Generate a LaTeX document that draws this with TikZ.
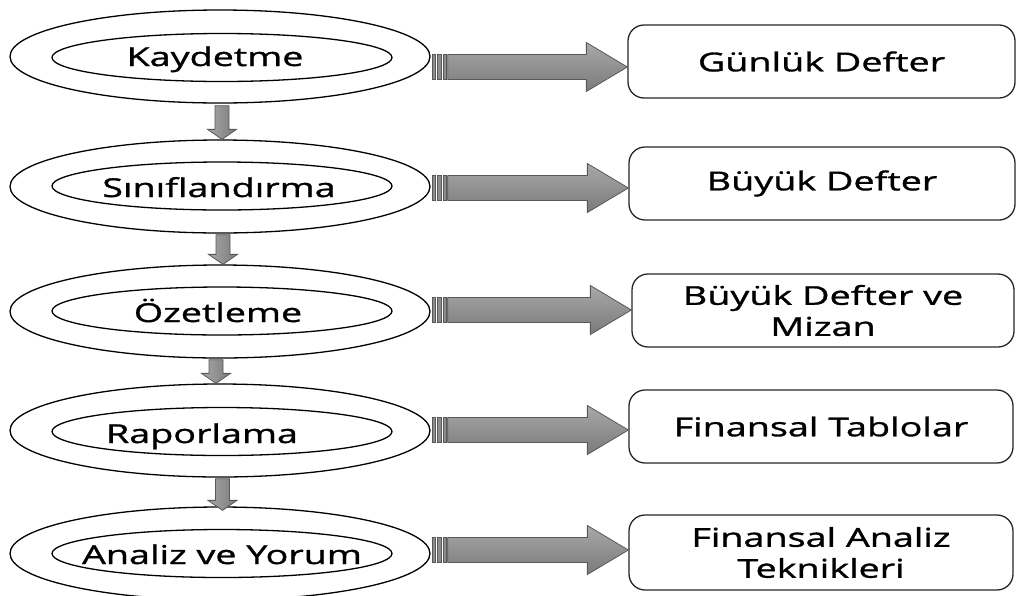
\documentclass[tikz,border=0pt]{standalone}
\usepackage{fontspec}
\setmainfont{Open Sans}[FakeStretch=1.45,FakeBold=1.2]
\usetikzlibrary{shapes.geometric,calc}

\definecolor{arrowtop}{RGB}{168,168,168}
\definecolor{arrowbot}{RGB}{122,122,122}
\definecolor{arrowedge}{RGB}{88,88,88}
\definecolor{barcol}{RGB}{140,140,140}

\tikzset{
  outerell/.style={ellipse, draw=black, line width=1.3pt,
    minimum width=420pt, minimum height=93pt, inner sep=0pt},
  innerell/.style={ellipse, draw=black, line width=1.3pt,
    minimum width=340pt, minimum height=48pt, inner sep=0pt},
  lbl/.style={font=\fontsize{26}{31}\selectfont, anchor=base, inner sep=0pt},
  resultbox/.style={draw=black!85, line width=1.3pt, rounded corners=16pt,
    minimum height=73pt, align=center, inner sep=0pt,
    font=\fontsize{26}{31}\selectfont},
  stripe/.style={draw=arrowedge, line width=0.6pt, fill=barcol},
  sideshaft/.style={draw=arrowedge, line width=0.8pt,
    top color=arrowtop, bottom color=arrowbot},
  downshaft/.style={draw=arrowedge, line width=0.8pt,
    left color=arrowtop, right color=arrowbot},
}

% horizontal block arrow with striped tail, from #1 to #2
\newcommand\sideblock[2]{%
  \draw[stripe] let \p1=(#1) in
    (\x1,\y1-12.5pt) rectangle (\x1+3pt,\y1+12.5pt)
    (\x1+5pt,\y1-12.5pt) rectangle (\x1+9pt,\y1+12.5pt)
    (\x1+11pt,\y1-12.5pt) rectangle (\x1+14pt,\y1+12.5pt);
  \draw[sideshaft] let \p1=(#1), \p2=(#2) in
    (\x1+15pt,\y1-12.5pt) -- (\x2-41pt,\y1-12.5pt) -- (\x2-41pt,\y1-24.5pt)
    -- (\x2,\y1) -- (\x2-41pt,\y1+24.5pt) -- (\x2-41pt,\y1+12.5pt)
    -- (\x1+15pt,\y1+12.5pt) -- cycle;
}
% vertical block arrow from #1 down to #2
\newcommand\downblock[2]{%
  \draw[downshaft] let \p1=(#1), \p2=(#2) in
    (\x1-7pt,\y1) -- (\x1+7pt,\y1) -- (\x1+7pt,\y2+10pt) -- (\x1+14.5pt,\y2+10pt)
    -- (\x1,\y2) -- (\x1-14.5pt,\y2+10pt) -- (\x1-7pt,\y2+10pt) -- cycle;
}

\begin{document}
\begin{tikzpicture}[x=1pt,y=-1pt]
\useasboundingbox (0,0) rectangle (1016,595);

% process steps
\node[outerell] (o1) at (220,56.5) {};
\node[outerell] (o2) at (220,186.5) {};
\node[outerell] (o3) at (220,311.5) {};
\node[outerell] (o4) at (220,430.5) {};
\node[outerell] (o5) at (220,553.5) {};

\node[innerell] (i1) at (222,57.5) {};
\node[innerell] (i2) at (222,186) {};
\node[innerell] (i3) at (222,311) {};
\node[innerell] (i4) at (222,431.5) {};
\node[innerell] (i5) at (222,553.5) {};

\node[lbl] (t1) at (215,66) {Kaydetme};
\node[lbl] (t2) at (219,197) {Sınıflandırma};
\node[lbl] (t3) at (218,322) {Özetleme};
\node[lbl] (t4) at (202,443) {Raporlama};
\node[lbl] (t5) at (222,564) {Analiz ve Yorum};

% resulting records
\node[resultbox, minimum width=387pt] (b1) at (821.5,61.5) {Günlük Defter};
\node[resultbox, minimum width=386pt] (b2) at (822,183.5) {Büyük Defter};
\node[resultbox, minimum width=382pt] (b3) at (823,310.5) {Büyük Defter ve\\Mizan};
\node[resultbox, minimum width=384pt] (b4) at (821,426.5) {Finansal Tablolar};
\node[resultbox, minimum width=384pt, minimum height=75pt] (b5) at (821,552.5) {Finansal Analiz\\Teknikleri};

% flow between steps
\coordinate (d1s) at ($(o1.south)+(2,2)$);   \coordinate (d1e) at ($(o2.north)+(2,0)$);
\coordinate (d2s) at ($(o2.south)+(3,1)$);   \coordinate (d2e) at ($(o3.north)+(3,0)$);
\coordinate (d3s) at ($(o3.south)+(-4,1)$);  \coordinate (d3e) at ($(o4.north)+(-4,0)$);
\coordinate (d4s) at ($(o4.south)+(2.5,1)$); \coordinate (d4e) at ($(o5.north)+(2.5,4)$);
\downblock{d1s}{d1e}
\downblock{d2s}{d2e}
\downblock{d3s}{d3e}
\downblock{d4s}{d4e}

% step to record
\coordinate (h1) at ($(o1.east)+(2,10.5)$);
\coordinate (h2) at ($(o2.east)+(2,1.5)$);
\coordinate (h3) at ($(o3.east)+(2,-1.5)$);
\coordinate (h4) at ($(o4.east)+(2,-0.5)$);
\coordinate (h5) at ($(o5.east)+(2,-3.5)$);
\sideblock{h1}{b1.west |- h1}
\sideblock{h2}{b2.west |- h2}
\sideblock{h3}{b3.west |- h3}
\sideblock{h4}{b4.west |- h4}
\sideblock{h5}{b5.west |- h5}
\end{tikzpicture}
\end{document}
